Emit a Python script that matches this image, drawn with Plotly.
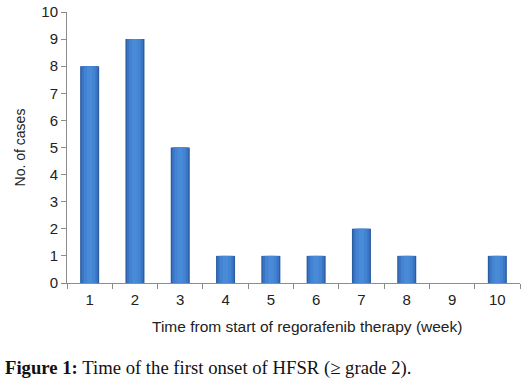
import plotly.graph_objects as go

weeks = ["1", "2", "3", "4", "5", "6", "7", "8", "9", "10"]
cases = [8, 9, 5, 1, 1, 1, 2, 1, 0, 1]
y_ticks = list(range(0, 11))

fig = go.Figure()
# layered bars to mimic the shaded cylinder look
layers = [
    (0.42, "#2a5d9f"),
    (0.36, "#3a74c2"),
    (0.26, "#4283d2"),
    (0.12, "#4a8bd8"),
]
for w, c in layers:
    fig.add_trace(go.Bar(x=weeks, y=cases, width=w, marker=dict(color=c, line=dict(width=0)),
                         hoverinfo="skip", showlegend=False))

fig.update_layout(
    barmode="overlay",
    width=523, height=389,
    margin=dict(l=67, r=3, t=12, b=106),
    plot_bgcolor="white", paper_bgcolor="white",
    font=dict(family="Liberation Sans, Arial, sans-serif", size=14, color="#222"),
    showlegend=False,
)
fig.update_xaxes(
    type="category", automargin=False,
    showline=True, linecolor="#8c8c8c", linewidth=1,
    ticks="outside", tickson="boundaries", ticklen=5, tickcolor="#8c8c8c",
    showgrid=False, ticklabelstandoff=3,
    tickfont=dict(size=15, color="#222"),
)
fig.update_yaxes(
    range=[0, 10], tickvals=y_ticks, automargin=False,
    showline=True, linecolor="#8c8c8c", linewidth=1,
    ticks="outside", ticklen=5, tickcolor="#8c8c8c",
    showgrid=False, zeroline=False,
    tickfont=dict(size=15, color="#222"),
    title=dict(text="No. of cases", font=dict(size=14, color="#222"), standoff=12),
)
fig.add_annotation(
    xref="paper", yref="paper", x=0.53, y=-0.159, xanchor="center", yanchor="middle",
    text="Time from start of regorafenib therapy (week)",
    showarrow=False, font=dict(size=15.5, color="#222"),
)
fig.add_annotation(
    xref="paper", yref="paper", x=-0.141, y=-0.314, xanchor="left", yanchor="middle",
    text="<b>Figure 1:</b> Time of the first onset of HFSR (≥ grade 2).",
    showarrow=False, font=dict(family="Liberation Serif, DejaVu Serif, serif", size=18.7, color="#111"),
)
fig.write_html("out.html", config={"displayModeBar": False},
               post_script="document.body.style.margin='0';")
